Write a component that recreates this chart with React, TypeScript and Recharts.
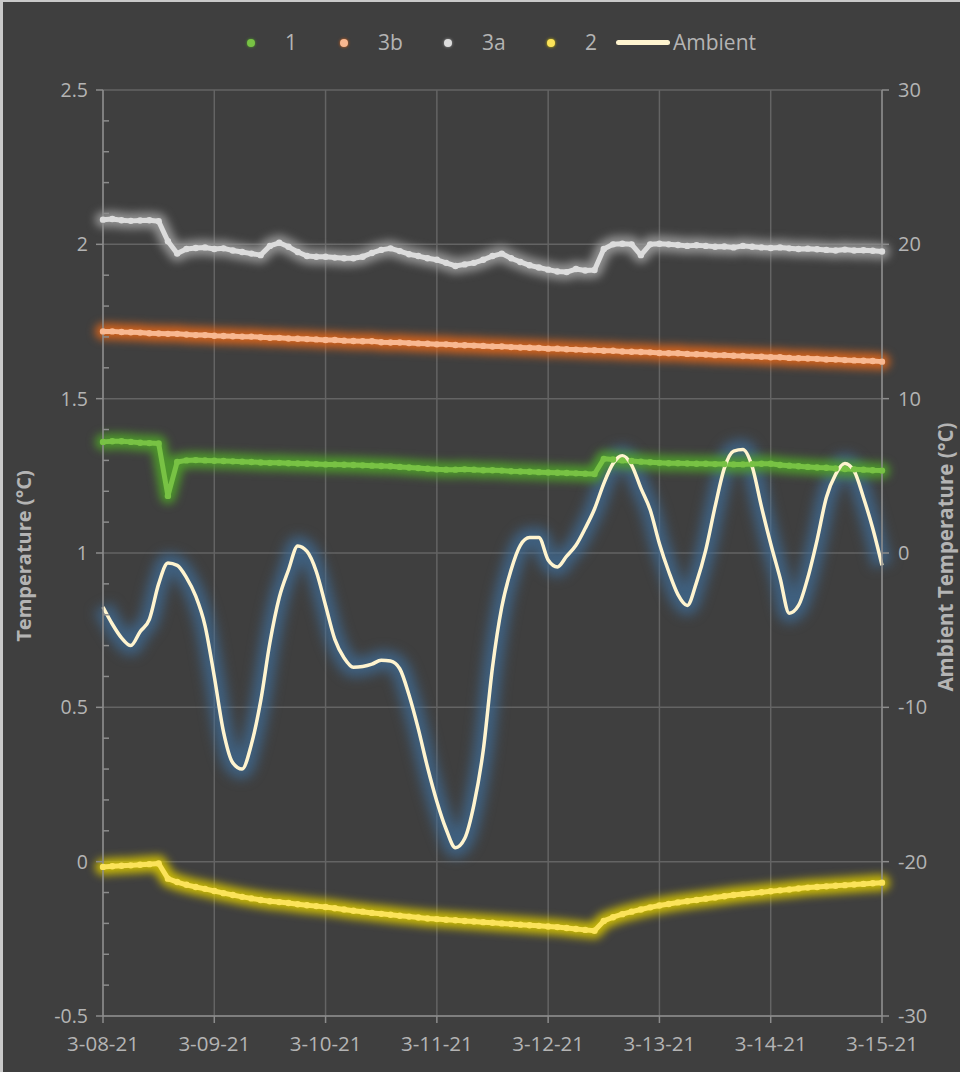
import { ComposedChart, Line, XAxis, YAxis, CartesianGrid } from 'recharts'

// readings every 2 hours, 3-08-21 00:00 .. 3-15-21 00:00
const AMBIENT = [
  -3.5, -4.6, -5.5, -6.0, -5.1, -4.3, -2.0, -0.65, -0.8, -1.6, -2.8, -4.7,
  -8.0, -11.6, -13.6, -14.0, -12.4, -9.6, -5.8, -2.9, -1.1, 0.45, 0.1, -1.2,
  -3.4, -5.6, -6.8, -7.4, -7.35, -7.2, -6.95, -7.0, -7.5, -9.2, -11.4, -13.9,
  -16.1, -17.9, -19.1, -18.5, -16.3, -12.8, -7.4, -3.5, -1.1, 0.5, 1.0, 1.0,
  -0.45, -0.9, -0.2, 0.5, 1.6, 2.85, 4.5, 5.8, 6.3, 5.7, 4.2, 2.8,
  0.6, -1.2, -2.7, -3.4, -1.9, 0.2, 3.0, 5.5, 6.6, 6.7, 5.6, 3.0,
  0.6, -1.6, -3.9, -3.4, -1.6, 0.84, 3.6, 5.1, 5.8, 5.3, 3.6, 1.6,
  -0.8,
]

const SENSOR_1 = [
  1.36, 1.362, 1.362, 1.36, 1.357, 1.356, 1.355, 1.185, 1.295, 1.3, 1.301, 1.3,
  1.299, 1.298, 1.297, 1.296, 1.295, 1.293,
  1.292, 1.292, 1.291, 1.29, 1.289, 1.288,
  1.287, 1.287, 1.286, 1.285, 1.284, 1.283,
  1.282, 1.281, 1.279, 1.277, 1.275, 1.273,
  1.271, 1.27, 1.27, 1.271, 1.27, 1.268,
  1.268, 1.267, 1.265, 1.264, 1.263, 1.262,
  1.261, 1.26, 1.259, 1.258, 1.257, 1.256,
  1.305, 1.303, 1.3, 1.298, 1.296, 1.294,
  1.292, 1.291, 1.291, 1.29, 1.289, 1.289,
  1.288, 1.288, 1.287, 1.287, 1.288, 1.289,
  1.289, 1.285, 1.283, 1.281, 1.279, 1.277,
  1.276, 1.274, 1.272, 1.271, 1.27, 1.268,
  1.267,
]

const SENSOR_3B = [
  1.718, 1.718, 1.716, 1.715, 1.714, 1.712,
  1.711, 1.71, 1.71, 1.708, 1.706, 1.706,
  1.704, 1.703, 1.702, 1.701, 1.701, 1.699,
  1.697, 1.697, 1.695, 1.694, 1.693, 1.692,
  1.69, 1.69, 1.688, 1.687, 1.686, 1.686,
  1.683, 1.682, 1.682, 1.68, 1.679, 1.678,
  1.676, 1.676, 1.674, 1.673, 1.672, 1.671,
  1.669, 1.669, 1.667, 1.666, 1.665, 1.664,
  1.662, 1.662, 1.66, 1.659, 1.658, 1.657,
  1.655, 1.655, 1.653, 1.652, 1.651, 1.65,
  1.648, 1.647, 1.647, 1.645, 1.644, 1.643,
  1.641, 1.641, 1.639, 1.638, 1.637, 1.636,
  1.634, 1.634, 1.632, 1.631, 1.63, 1.629,
  1.627, 1.627, 1.625, 1.624, 1.623, 1.622,
  1.62,
]

const SENSOR_3A = [
  2.08, 2.082, 2.078, 2.076, 2.077, 2.078, 2.075, 2.01, 1.97, 1.985, 1.988, 1.99,
  1.985, 1.987, 1.98, 1.975, 1.97, 1.965, 1.995, 2.005, 1.992, 1.975, 1.962, 1.96,
  1.96, 1.957, 1.955, 1.955, 1.96, 1.972, 1.982, 1.987, 1.978, 1.968, 1.962, 1.955,
  1.95, 1.94, 1.93, 1.935, 1.94, 1.95, 1.962, 1.97, 1.955, 1.943, 1.932, 1.925,
  1.918, 1.912, 1.91, 1.92, 1.915, 1.917, 1.985, 2.0, 2.002, 2.0, 1.965, 2.0,
  2.002, 2.0, 1.998, 1.995, 1.997, 1.995, 1.992, 1.993, 1.99, 1.995, 1.992, 1.99,
  1.988, 1.99, 1.987, 1.985, 1.986, 1.984, 1.982, 1.98, 1.983, 1.98, 1.981, 1.979,
  1.977,
]

const SENSOR_2 = [
  -0.017, -0.015, -0.013, -0.012, -0.01, -0.008, -0.006, -0.055, -0.066, -0.075, -0.082, -0.088,
  -0.095, -0.102, -0.108, -0.114, -0.119, -0.124,
  -0.128, -0.131, -0.134, -0.138, -0.141, -0.144,
  -0.147, -0.151, -0.155, -0.159, -0.162, -0.166,
  -0.169, -0.172, -0.175, -0.178, -0.181, -0.184,
  -0.186, -0.188, -0.19, -0.192, -0.194, -0.196,
  -0.198, -0.2, -0.202, -0.204, -0.206, -0.208,
  -0.21, -0.212, -0.215, -0.218, -0.221, -0.224,
  -0.192, -0.18, -0.17, -0.162, -0.155, -0.148,
  -0.142, -0.137, -0.132, -0.128, -0.124, -0.12,
  -0.116, -0.112, -0.108, -0.105, -0.102, -0.099,
  -0.096, -0.093, -0.09, -0.087, -0.084, -0.082,
  -0.08, -0.078, -0.076, -0.074, -0.072, -0.07,
  -0.068,
]

const DAY_TICKS = [0, 24, 48, 72, 96, 120, 144, 168]
const DAY_LABELS = ['3-08-21', '3-09-21', '3-10-21', '3-11-21', '3-12-21', '3-13-21', '3-14-21', '3-15-21']
const LEFT_TICKS = [-0.5, 0, 0.5, 1, 1.5, 2, 2.5]
const LEFT_ALL_TICKS = [
  -0.5, -0.4, -0.3, -0.2, -0.1, 0, 0.1, 0.2, 0.3, 0.4, 0.5, 0.6, 0.7, 0.8, 0.9, 1,
  1.1, 1.2, 1.3, 1.4, 1.5, 1.6, 1.7, 1.8, 1.9, 2, 2.1, 2.2, 2.3, 2.4, 2.5,
]
const RIGHT_TICKS = [-30, -20, -10, 0, 10, 20, 30]

const SERIES = [
  { key: 's1', name: '1', core: '#78c244', glow: '#4f9e2a', legendX: 244 },
  { key: 's3b', name: '3b', core: '#f8b891', glow: '#e0661a', legendX: 337 },
  { key: 's3a', name: '3a', core: '#dcdcdc', glow: '#9a9a9a', legendX: 441 },
  { key: 's2', name: '2', core: '#fbe35a', glow: '#d6c400', legendX: 544 },
]

const rows = AMBIENT.map((amb, i) => ({
  h: i * 2,
  amb,
  s1: SENSOR_1[i],
  s3b: SENSOR_3B[i],
  s3a: SENSOR_3A[i],
  s2: SENSOR_2[i],
}))

const BG = '#3f3f3f'
const TEXT = '#b4b4b4'
const AXIS = '#8c8c8c'
const GRID = '#646464'
const FONT = "'Open Sans', 'Noto Sans', sans-serif"
const AMB_CORE = '#fff4cf'

const TICK_SIZE = 7
const TICK_MARGIN = 8

// left axis: labels + outer tick at majors, short inner tick at tenths
function LeftTick(props: any) {
  const { x, y, payload } = props
  const v = payload.value as number
  const axisX = x + TICK_SIZE + TICK_MARGIN
  const major = Math.abs(v * 2 - Math.round(v * 2)) < 1e-6
  if (!major) {
    return <line x1={axisX} x2={axisX + 6} y1={y} y2={y} stroke={AXIS} strokeWidth={1.5} />
  }
  return (
    <g>
      <line x1={axisX - TICK_SIZE} x2={axisX} y1={y} y2={y} stroke={AXIS} strokeWidth={1.5} />
      <text
        x={x}
        y={y}
        dy="0.355em"
        textAnchor="end"
        fill={TEXT}
        fontSize={19.5}
        fontFamily={FONT}
      >
        {String(v)}
      </text>
    </g>
  )
}

function Legend() {
  return (
    <div
      style={{
        position: 'absolute',
        top: 0,
        left: 0,
        fontFamily: FONT,
        fontSize: 21,
        color: TEXT,
      }}
    >
      {SERIES.map((s) => (
        <div key={s.key}>
          <span
            style={{
              position: 'absolute',
              left: s.legendX,
              top: 37,
              width: 8,
              height: 8,
              borderRadius: 4,
              background: s.core,
              boxShadow: `0 0 3px ${s.glow}`,
            }}
          />
          <span style={{ position: 'absolute', left: s.legendX + 38, top: 26, whiteSpace: 'nowrap' }}>
            {s.name}
          </span>
        </div>
      ))}
      <span
        style={{
          position: 'absolute',
          left: 613,
          top: 38,
          width: 54,
          height: 5,
          borderRadius: 3,
          background: AMB_CORE,
        }}
      />
      <span style={{ position: 'absolute', left: 670, top: 26, whiteSpace: 'nowrap' }}>Ambient</span>
    </div>
  )
}

export default function App() {
  return (
    <div
      style={{
        position: 'absolute',
        left: 0,
        top: 0,
        width: 960,
        height: 1072,
        background: BG,
        borderTop: '2px solid #c9c9c9',
        borderLeft: '3px solid #c9c9c9',
        boxSizing: 'border-box',
        overflow: 'hidden',
      }}
    >
      <style>{`
        .glow-soft { filter: blur(4.5px); }
        .glow-amb { filter: blur(6px); }
      `}</style>
      <div style={{ position: 'absolute', left: -3, top: -2 }}>
        <ComposedChart
          width={960}
          height={1072}
          data={rows}
          margin={{ top: 90, right: 0, bottom: 0, left: 0 }}
        >
          <CartesianGrid
            yAxisId="left"
            horizontalValues={LEFT_TICKS}
            stroke={GRID}
            strokeWidth={1.5}
          />
          <XAxis
            dataKey="h"
            type="number"
            domain={[0, 168]}
            ticks={DAY_TICKS}
            interval={0}
            height={56}
            tickSize={7}
            tickMargin={13}
            stroke={AXIS}
            strokeWidth={1.5}
            tick={{ fill: TEXT, fontSize: 20.5, fontFamily: FONT }}
            tickFormatter={(v: number) => DAY_LABELS[DAY_TICKS.indexOf(v)]}
          />
          <YAxis
            yAxisId="left"
            domain={[-0.5, 2.5]}
            ticks={LEFT_ALL_TICKS}
            interval={0}
            width={103}
            tickSize={TICK_SIZE}
            tickMargin={TICK_MARGIN}
            tickLine={false}
            stroke={AXIS}
            strokeWidth={1.5}
            tick={LeftTick}
            label={{
              content: () => (
                <text
                  x={23}
                  y={556}
                  transform="rotate(-90 23 556)"
                  textAnchor="middle"
                  dominantBaseline="central"
                  fill={TEXT}
                  fontSize={20}
                  fontWeight="bold"
                  fontFamily={FONT}
                >
                  Temperature (°C)
                </text>
              ),
            }}
          />
          <YAxis
            yAxisId="right"
            orientation="right"
            domain={[-30, 30]}
            ticks={RIGHT_TICKS}
            interval={0}
            width={78}
            tickSize={7}
            tickMargin={9}
            stroke={AXIS}
            strokeWidth={1.5}
            tick={{ fill: TEXT, fontSize: 20, fontFamily: FONT }}
            label={{
              content: () => (
                <text
                  x={945}
                  y={557}
                  transform="rotate(-90 945 557)"
                  textAnchor="middle"
                  dominantBaseline="central"
                  fill={TEXT}
                  fontSize={20.5}
                  fontWeight="bold"
                  fontFamily={FONT}
                >
                  Ambient Temperature (°C)
                </text>
              ),
            }}
          />

          <Line
            yAxisId="right"
            dataKey="amb"
            type="monotone"
            stroke="#3f6d9a"
            strokeWidth={20}
            strokeOpacity={0.7}
            dot={false}
            activeDot={false}
            className="glow-amb"
            isAnimationActive={false}
          />
          {SERIES.map((s) => (
            <Line
              key={s.key + '-glow'}
              yAxisId="left"
              dataKey={s.key}
              type="linear"
              stroke={s.glow}
              strokeWidth={16}
              strokeOpacity={0.9}
              strokeLinecap="round"
              strokeLinejoin="round"
              dot={false}
              activeDot={false}
              className="glow-soft"
              isAnimationActive={false}
            />
          ))}
          {SERIES.map((s) => (
            <Line
              key={s.key}
              yAxisId="left"
              dataKey={s.key}
              name={s.name}
              type="linear"
              stroke={s.core}
              strokeWidth={5}
              strokeLinecap="round"
              strokeLinejoin="round"
              dot={{ r: 3.2, fill: s.core, stroke: 'none' }}
              activeDot={false}
              isAnimationActive={false}
            />
          ))}
          <Line
            yAxisId="right"
            dataKey="amb"
            name="Ambient"
            type="monotone"
            stroke={AMB_CORE}
            strokeWidth={3.5}
            dot={false}
            activeDot={false}
            isAnimationActive={false}
          />
        </ComposedChart>
      </div>
      <Legend />
    </div>
  )
}
